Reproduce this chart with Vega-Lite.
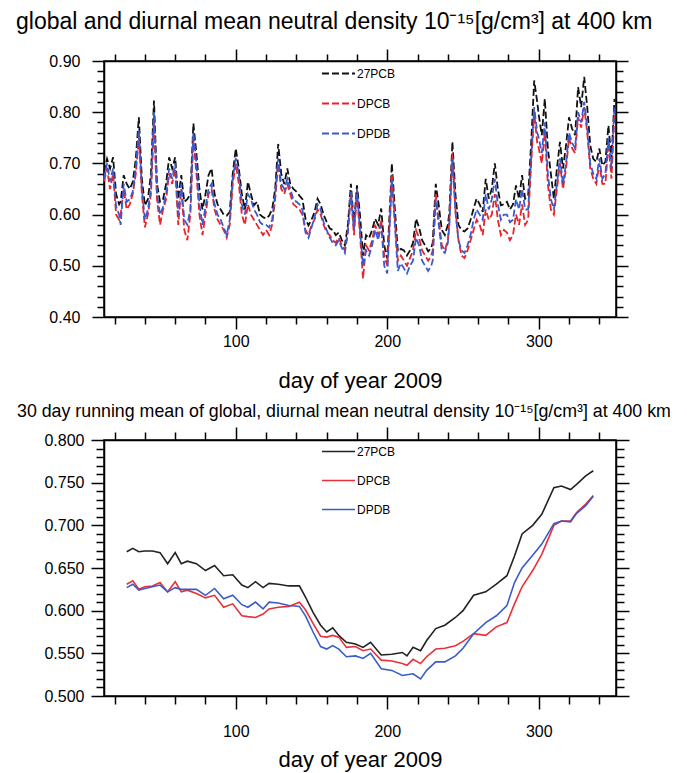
{
  "$schema": "https://vega.github.io/schema/vega-lite/v6.json",
  "padding": {"left": 15, "top": 10, "right": 5, "bottom": 5},
  "background": "white",
  "config": {
    "font": "Liberation Sans",
    "view": {"stroke": "black", "strokeWidth": 1.5},
    "axis": {"grid": false, "domainColor": "black", "domainWidth": 1.5, "tickColor": "black", "tickWidth": 1.5, "labelColor": "black", "titleColor": "black", "titleFontWeight": "normal", "labelOverlap": false, "labelFlush": false},
    "title": {"color": "black", "fontWeight": "normal", "anchor": "start", "frame": "group"}
  },
  "spacing": 10,
  "resolve": {"scale": {"color": "independent"}, "legend": {"color": "independent"}},
  "datasets": {
    "daily": [
      {"day": 13, "27PCB": 0.683, "DPCB": 0.665, "DPDB": 0.670},
      {"day": 15, "27PCB": 0.709, "DPCB": 0.690, "DPDB": 0.700},
      {"day": 17, "27PCB": 0.690, "DPCB": 0.650, "DPDB": 0.665},
      {"day": 19, "27PCB": 0.712, "DPCB": 0.680, "DPDB": 0.690},
      {"day": 21, "27PCB": 0.640, "DPCB": 0.600, "DPDB": 0.615},
      {"day": 23, "27PCB": 0.620, "DPCB": 0.590, "DPDB": 0.600},
      {"day": 24, "27PCB": 0.625, "DPCB": 0.600, "DPDB": 0.580},
      {"day": 26, "27PCB": 0.677, "DPCB": 0.650, "DPDB": 0.660},
      {"day": 28, "27PCB": 0.660, "DPCB": 0.610, "DPDB": 0.625},
      {"day": 30, "27PCB": 0.650, "DPCB": 0.620, "DPDB": 0.630},
      {"day": 32, "27PCB": 0.664, "DPCB": 0.640, "DPDB": 0.645},
      {"day": 34, "27PCB": 0.709, "DPCB": 0.680, "DPDB": 0.690},
      {"day": 36, "27PCB": 0.790, "DPCB": 0.750, "DPDB": 0.765},
      {"day": 38, "27PCB": 0.670, "DPCB": 0.640, "DPDB": 0.650},
      {"day": 40, "27PCB": 0.618, "DPCB": 0.575, "DPDB": 0.590},
      {"day": 42, "27PCB": 0.630, "DPCB": 0.600, "DPDB": 0.610},
      {"day": 44, "27PCB": 0.680, "DPCB": 0.640, "DPDB": 0.650},
      {"day": 46, "27PCB": 0.823, "DPCB": 0.780, "DPDB": 0.800},
      {"day": 48, "27PCB": 0.660, "DPCB": 0.630, "DPDB": 0.640},
      {"day": 50, "27PCB": 0.625, "DPCB": 0.580, "DPDB": 0.600},
      {"day": 52, "27PCB": 0.630, "DPCB": 0.610, "DPDB": 0.615},
      {"day": 54, "27PCB": 0.660, "DPCB": 0.630, "DPDB": 0.640},
      {"day": 56, "27PCB": 0.712, "DPCB": 0.680, "DPDB": 0.690},
      {"day": 58, "27PCB": 0.690, "DPCB": 0.660, "DPDB": 0.670},
      {"day": 60, "27PCB": 0.712, "DPCB": 0.690, "DPDB": 0.700},
      {"day": 62, "27PCB": 0.630, "DPCB": 0.580, "DPDB": 0.600},
      {"day": 64, "27PCB": 0.677, "DPCB": 0.650, "DPDB": 0.660},
      {"day": 66, "27PCB": 0.625, "DPCB": 0.570, "DPDB": 0.590},
      {"day": 68, "27PCB": 0.630, "DPCB": 0.550, "DPDB": 0.580},
      {"day": 70, "27PCB": 0.640, "DPCB": 0.600, "DPDB": 0.610},
      {"day": 72, "27PCB": 0.778, "DPCB": 0.750, "DPDB": 0.760},
      {"day": 74, "27PCB": 0.720, "DPCB": 0.680, "DPDB": 0.700},
      {"day": 76, "27PCB": 0.650, "DPCB": 0.600, "DPDB": 0.620},
      {"day": 78, "27PCB": 0.610, "DPCB": 0.560, "DPDB": 0.580},
      {"day": 80, "27PCB": 0.640, "DPCB": 0.600, "DPDB": 0.615},
      {"day": 82, "27PCB": 0.677, "DPCB": 0.640, "DPDB": 0.650},
      {"day": 84, "27PCB": 0.690, "DPCB": 0.650, "DPDB": 0.660},
      {"day": 86, "27PCB": 0.640, "DPCB": 0.610, "DPDB": 0.620},
      {"day": 88, "27PCB": 0.620, "DPCB": 0.590, "DPDB": 0.600},
      {"day": 90, "27PCB": 0.610, "DPCB": 0.580, "DPDB": 0.590},
      {"day": 92, "27PCB": 0.600, "DPCB": 0.570, "DPDB": 0.575},
      {"day": 94, "27PCB": 0.598, "DPCB": 0.555, "DPDB": 0.560},
      {"day": 96, "27PCB": 0.605, "DPCB": 0.580, "DPDB": 0.590},
      {"day": 98, "27PCB": 0.680, "DPCB": 0.660, "DPDB": 0.670},
      {"day": 100, "27PCB": 0.729, "DPCB": 0.700, "DPDB": 0.710},
      {"day": 102, "27PCB": 0.690, "DPCB": 0.660, "DPDB": 0.680},
      {"day": 104, "27PCB": 0.640, "DPCB": 0.600, "DPDB": 0.620},
      {"day": 106, "27PCB": 0.610, "DPCB": 0.580, "DPDB": 0.600},
      {"day": 108, "27PCB": 0.664, "DPCB": 0.620, "DPDB": 0.640},
      {"day": 110, "27PCB": 0.640, "DPCB": 0.600, "DPDB": 0.630},
      {"day": 112, "27PCB": 0.618, "DPCB": 0.590, "DPDB": 0.610},
      {"day": 114, "27PCB": 0.625, "DPCB": 0.580, "DPDB": 0.600},
      {"day": 116, "27PCB": 0.600, "DPCB": 0.570, "DPDB": 0.585},
      {"day": 118, "27PCB": 0.595, "DPCB": 0.560, "DPDB": 0.580},
      {"day": 120, "27PCB": 0.592, "DPCB": 0.570, "DPDB": 0.580},
      {"day": 122, "27PCB": 0.598, "DPCB": 0.560, "DPDB": 0.575},
      {"day": 124, "27PCB": 0.610, "DPCB": 0.580, "DPDB": 0.590},
      {"day": 126, "27PCB": 0.650, "DPCB": 0.630, "DPDB": 0.640},
      {"day": 128, "27PCB": 0.738, "DPCB": 0.700, "DPDB": 0.710},
      {"day": 130, "27PCB": 0.680, "DPCB": 0.650, "DPDB": 0.660},
      {"day": 132, "27PCB": 0.660, "DPCB": 0.640, "DPDB": 0.650},
      {"day": 134, "27PCB": 0.690, "DPCB": 0.660, "DPDB": 0.670},
      {"day": 136, "27PCB": 0.660, "DPCB": 0.640, "DPDB": 0.650},
      {"day": 138, "27PCB": 0.650, "DPCB": 0.620, "DPDB": 0.630},
      {"day": 140, "27PCB": 0.645, "DPCB": 0.615, "DPDB": 0.625},
      {"day": 142, "27PCB": 0.637, "DPCB": 0.610, "DPDB": 0.620},
      {"day": 144, "27PCB": 0.630, "DPCB": 0.600, "DPDB": 0.610},
      {"day": 146, "27PCB": 0.592, "DPCB": 0.570, "DPDB": 0.565},
      {"day": 148, "27PCB": 0.579, "DPCB": 0.560, "DPDB": 0.555},
      {"day": 150, "27PCB": 0.590, "DPCB": 0.580, "DPDB": 0.575},
      {"day": 152, "27PCB": 0.605, "DPCB": 0.590, "DPDB": 0.595},
      {"day": 154, "27PCB": 0.631, "DPCB": 0.610, "DPDB": 0.620},
      {"day": 156, "27PCB": 0.620, "DPCB": 0.600, "DPDB": 0.610},
      {"day": 158, "27PCB": 0.600, "DPCB": 0.580, "DPDB": 0.585},
      {"day": 160, "27PCB": 0.586, "DPCB": 0.565, "DPDB": 0.570},
      {"day": 162, "27PCB": 0.573, "DPCB": 0.560, "DPDB": 0.555},
      {"day": 164, "27PCB": 0.570, "DPCB": 0.550, "DPDB": 0.545},
      {"day": 166, "27PCB": 0.560, "DPCB": 0.545, "DPDB": 0.540},
      {"day": 168, "27PCB": 0.565, "DPCB": 0.555, "DPDB": 0.550},
      {"day": 170, "27PCB": 0.550, "DPCB": 0.540, "DPDB": 0.535},
      {"day": 172, "27PCB": 0.540, "DPCB": 0.530, "DPDB": 0.525},
      {"day": 174, "27PCB": 0.580, "DPCB": 0.570, "DPDB": 0.565},
      {"day": 176, "27PCB": 0.660, "DPCB": 0.640, "DPDB": 0.645},
      {"day": 178, "27PCB": 0.580, "DPCB": 0.560, "DPDB": 0.570},
      {"day": 180, "27PCB": 0.657, "DPCB": 0.640, "DPDB": 0.650},
      {"day": 182, "27PCB": 0.600, "DPCB": 0.560, "DPDB": 0.570},
      {"day": 184, "27PCB": 0.520, "DPCB": 0.475, "DPDB": 0.500},
      {"day": 186, "27PCB": 0.560, "DPCB": 0.540, "DPDB": 0.530},
      {"day": 188, "27PCB": 0.554, "DPCB": 0.530, "DPDB": 0.520},
      {"day": 190, "27PCB": 0.570, "DPCB": 0.550, "DPDB": 0.540},
      {"day": 192, "27PCB": 0.592, "DPCB": 0.580, "DPDB": 0.570},
      {"day": 194, "27PCB": 0.580, "DPCB": 0.560, "DPDB": 0.550},
      {"day": 196, "27PCB": 0.612, "DPCB": 0.590, "DPDB": 0.580},
      {"day": 198, "27PCB": 0.540, "DPCB": 0.520, "DPDB": 0.500},
      {"day": 200, "27PCB": 0.514, "DPCB": 0.500, "DPDB": 0.485},
      {"day": 202, "27PCB": 0.630, "DPCB": 0.610, "DPDB": 0.600},
      {"day": 203, "27PCB": 0.700, "DPCB": 0.680, "DPDB": 0.670},
      {"day": 205, "27PCB": 0.612, "DPCB": 0.590, "DPDB": 0.580},
      {"day": 207, "27PCB": 0.528, "DPCB": 0.510, "DPDB": 0.490},
      {"day": 209, "27PCB": 0.533, "DPCB": 0.520, "DPDB": 0.505},
      {"day": 211, "27PCB": 0.530, "DPCB": 0.510, "DPDB": 0.495},
      {"day": 213, "27PCB": 0.520, "DPCB": 0.500, "DPDB": 0.485},
      {"day": 215, "27PCB": 0.530, "DPCB": 0.515, "DPDB": 0.500},
      {"day": 217, "27PCB": 0.545, "DPCB": 0.530, "DPDB": 0.510},
      {"day": 219, "27PCB": 0.592, "DPCB": 0.570, "DPDB": 0.555},
      {"day": 221, "27PCB": 0.575, "DPCB": 0.555, "DPDB": 0.540},
      {"day": 223, "27PCB": 0.550, "DPCB": 0.530, "DPDB": 0.510},
      {"day": 225, "27PCB": 0.540, "DPCB": 0.520, "DPDB": 0.500},
      {"day": 227, "27PCB": 0.528, "DPCB": 0.510, "DPDB": 0.490},
      {"day": 229, "27PCB": 0.535, "DPCB": 0.520, "DPDB": 0.500},
      {"day": 230, "27PCB": 0.545, "DPCB": 0.530, "DPDB": 0.510},
      {"day": 232, "27PCB": 0.660, "DPCB": 0.640, "DPDB": 0.630},
      {"day": 234, "27PCB": 0.618, "DPCB": 0.590, "DPDB": 0.580},
      {"day": 236, "27PCB": 0.570, "DPCB": 0.540, "DPDB": 0.530},
      {"day": 238, "27PCB": 0.560, "DPCB": 0.530, "DPDB": 0.525},
      {"day": 240, "27PCB": 0.580, "DPCB": 0.550, "DPDB": 0.545},
      {"day": 241, "27PCB": 0.605, "DPCB": 0.590, "DPDB": 0.580},
      {"day": 243, "27PCB": 0.742, "DPCB": 0.720, "DPDB": 0.710},
      {"day": 245, "27PCB": 0.640, "DPCB": 0.610, "DPDB": 0.605},
      {"day": 247, "27PCB": 0.580, "DPCB": 0.550, "DPDB": 0.550},
      {"day": 249, "27PCB": 0.570, "DPCB": 0.520, "DPDB": 0.530},
      {"day": 251, "27PCB": 0.567, "DPCB": 0.515, "DPDB": 0.525},
      {"day": 253, "27PCB": 0.573, "DPCB": 0.530, "DPDB": 0.540},
      {"day": 255, "27PCB": 0.590, "DPCB": 0.550, "DPDB": 0.560},
      {"day": 257, "27PCB": 0.612, "DPCB": 0.570, "DPDB": 0.590},
      {"day": 259, "27PCB": 0.631, "DPCB": 0.590, "DPDB": 0.610},
      {"day": 261, "27PCB": 0.620, "DPCB": 0.580, "DPDB": 0.600},
      {"day": 263, "27PCB": 0.605, "DPCB": 0.560, "DPDB": 0.590},
      {"day": 265, "27PCB": 0.670, "DPCB": 0.610, "DPDB": 0.640},
      {"day": 267, "27PCB": 0.631, "DPCB": 0.590, "DPDB": 0.610},
      {"day": 269, "27PCB": 0.650, "DPCB": 0.600, "DPDB": 0.630},
      {"day": 271, "27PCB": 0.700, "DPCB": 0.640, "DPDB": 0.670},
      {"day": 273, "27PCB": 0.650, "DPCB": 0.590, "DPDB": 0.620},
      {"day": 275, "27PCB": 0.618, "DPCB": 0.560, "DPDB": 0.590},
      {"day": 277, "27PCB": 0.620, "DPCB": 0.570, "DPDB": 0.600},
      {"day": 279, "27PCB": 0.625, "DPCB": 0.565, "DPDB": 0.600},
      {"day": 281, "27PCB": 0.610, "DPCB": 0.550, "DPDB": 0.585},
      {"day": 283, "27PCB": 0.620, "DPCB": 0.560, "DPDB": 0.590},
      {"day": 285, "27PCB": 0.657, "DPCB": 0.600, "DPDB": 0.630},
      {"day": 287, "27PCB": 0.631, "DPCB": 0.580, "DPDB": 0.610},
      {"day": 289, "27PCB": 0.677, "DPCB": 0.620, "DPDB": 0.650},
      {"day": 291, "27PCB": 0.631, "DPCB": 0.580, "DPDB": 0.610},
      {"day": 293, "27PCB": 0.637, "DPCB": 0.590, "DPDB": 0.610},
      {"day": 295, "27PCB": 0.740, "DPCB": 0.700, "DPDB": 0.710},
      {"day": 297, "27PCB": 0.862, "DPCB": 0.800, "DPDB": 0.810},
      {"day": 299, "27PCB": 0.820, "DPCB": 0.740, "DPDB": 0.760},
      {"day": 300, "27PCB": 0.795, "DPCB": 0.730, "DPDB": 0.750},
      {"day": 302, "27PCB": 0.755, "DPCB": 0.700, "DPDB": 0.720},
      {"day": 304, "27PCB": 0.826, "DPCB": 0.760, "DPDB": 0.780},
      {"day": 306, "27PCB": 0.730, "DPCB": 0.660, "DPDB": 0.680},
      {"day": 308, "27PCB": 0.680, "DPCB": 0.610, "DPDB": 0.630},
      {"day": 310, "27PCB": 0.631, "DPCB": 0.600, "DPDB": 0.610},
      {"day": 312, "27PCB": 0.690, "DPCB": 0.650, "DPDB": 0.660},
      {"day": 314, "27PCB": 0.742, "DPCB": 0.700, "DPDB": 0.710},
      {"day": 316, "27PCB": 0.690, "DPCB": 0.650, "DPDB": 0.660},
      {"day": 318, "27PCB": 0.735, "DPCB": 0.690, "DPDB": 0.700},
      {"day": 320, "27PCB": 0.790, "DPCB": 0.750, "DPDB": 0.760},
      {"day": 322, "27PCB": 0.768, "DPCB": 0.730, "DPDB": 0.740},
      {"day": 324, "27PCB": 0.755, "DPCB": 0.720, "DPDB": 0.730},
      {"day": 326, "27PCB": 0.849, "DPCB": 0.790, "DPDB": 0.800},
      {"day": 328, "27PCB": 0.810, "DPCB": 0.770, "DPDB": 0.780},
      {"day": 330, "27PCB": 0.869, "DPCB": 0.810, "DPDB": 0.820},
      {"day": 332, "27PCB": 0.810, "DPCB": 0.760, "DPDB": 0.770},
      {"day": 334, "27PCB": 0.735, "DPCB": 0.690, "DPDB": 0.700},
      {"day": 336, "27PCB": 0.709, "DPCB": 0.670, "DPDB": 0.680},
      {"day": 338, "27PCB": 0.703, "DPCB": 0.660, "DPDB": 0.670},
      {"day": 340, "27PCB": 0.729, "DPCB": 0.700, "DPDB": 0.710},
      {"day": 342, "27PCB": 0.696, "DPCB": 0.660, "DPDB": 0.670},
      {"day": 344, "27PCB": 0.703, "DPCB": 0.660, "DPDB": 0.680},
      {"day": 346, "27PCB": 0.774, "DPCB": 0.740, "DPDB": 0.750},
      {"day": 348, "27PCB": 0.709, "DPCB": 0.670, "DPDB": 0.690},
      {"day": 350, "27PCB": 0.826, "DPCB": 0.800, "DPDB": 0.810}
    ],
    "running": [
      {"day": 28, "27PCB": 0.669, "DPCB": 0.631, "DPDB": 0.627},
      {"day": 32, "27PCB": 0.673, "DPCB": 0.635, "DPDB": 0.631},
      {"day": 36, "27PCB": 0.669, "DPCB": 0.625, "DPDB": 0.624},
      {"day": 40, "27PCB": 0.670, "DPCB": 0.628, "DPDB": 0.626},
      {"day": 45, "27PCB": 0.670, "DPCB": 0.629, "DPDB": 0.628},
      {"day": 50, "27PCB": 0.668, "DPCB": 0.633, "DPDB": 0.630},
      {"day": 55, "27PCB": 0.655, "DPCB": 0.622, "DPDB": 0.622},
      {"day": 60, "27PCB": 0.668, "DPCB": 0.634, "DPDB": 0.627},
      {"day": 64, "27PCB": 0.655, "DPCB": 0.622, "DPDB": 0.625},
      {"day": 68, "27PCB": 0.658, "DPCB": 0.624, "DPDB": 0.625},
      {"day": 74, "27PCB": 0.655, "DPCB": 0.620, "DPDB": 0.625},
      {"day": 80, "27PCB": 0.647, "DPCB": 0.615, "DPDB": 0.618},
      {"day": 86, "27PCB": 0.653, "DPCB": 0.618, "DPDB": 0.626},
      {"day": 92, "27PCB": 0.641, "DPCB": 0.604, "DPDB": 0.614},
      {"day": 98, "27PCB": 0.642, "DPCB": 0.608, "DPDB": 0.618},
      {"day": 104, "27PCB": 0.630, "DPCB": 0.594, "DPDB": 0.607},
      {"day": 108, "27PCB": 0.627, "DPCB": 0.593, "DPDB": 0.604},
      {"day": 113, "27PCB": 0.634, "DPCB": 0.592, "DPDB": 0.610},
      {"day": 118, "27PCB": 0.627, "DPCB": 0.596, "DPDB": 0.602},
      {"day": 122, "27PCB": 0.632, "DPCB": 0.602, "DPDB": 0.610},
      {"day": 128, "27PCB": 0.631, "DPCB": 0.604, "DPDB": 0.609},
      {"day": 135, "27PCB": 0.629, "DPCB": 0.605, "DPDB": 0.606},
      {"day": 142, "27PCB": 0.629, "DPCB": 0.610, "DPDB": 0.605},
      {"day": 146, "27PCB": 0.616, "DPCB": 0.601, "DPDB": 0.594},
      {"day": 151, "27PCB": 0.598, "DPCB": 0.585, "DPDB": 0.575},
      {"day": 156, "27PCB": 0.583, "DPCB": 0.570, "DPDB": 0.558},
      {"day": 160, "27PCB": 0.575, "DPCB": 0.569, "DPDB": 0.555},
      {"day": 164, "27PCB": 0.580, "DPCB": 0.571, "DPDB": 0.559},
      {"day": 168, "27PCB": 0.571, "DPCB": 0.569, "DPDB": 0.555},
      {"day": 173, "27PCB": 0.563, "DPCB": 0.557, "DPDB": 0.546},
      {"day": 179, "27PCB": 0.561, "DPCB": 0.558, "DPDB": 0.547},
      {"day": 184, "27PCB": 0.557, "DPCB": 0.553, "DPDB": 0.544},
      {"day": 189, "27PCB": 0.563, "DPCB": 0.555, "DPDB": 0.550},
      {"day": 196, "27PCB": 0.548, "DPCB": 0.542, "DPDB": 0.532},
      {"day": 203, "27PCB": 0.549, "DPCB": 0.541, "DPDB": 0.530},
      {"day": 210, "27PCB": 0.551, "DPCB": 0.538, "DPDB": 0.524},
      {"day": 213, "27PCB": 0.547, "DPCB": 0.536, "DPDB": 0.525},
      {"day": 217, "27PCB": 0.557, "DPCB": 0.543, "DPDB": 0.526},
      {"day": 222, "27PCB": 0.553, "DPCB": 0.538, "DPDB": 0.520},
      {"day": 226, "27PCB": 0.565, "DPCB": 0.546, "DPDB": 0.530},
      {"day": 232, "27PCB": 0.579, "DPCB": 0.555, "DPDB": 0.540},
      {"day": 238, "27PCB": 0.583, "DPCB": 0.556, "DPDB": 0.540},
      {"day": 245, "27PCB": 0.592, "DPCB": 0.559, "DPDB": 0.547},
      {"day": 250, "27PCB": 0.600, "DPCB": 0.564, "DPDB": 0.556},
      {"day": 257, "27PCB": 0.618, "DPCB": 0.573, "DPDB": 0.573},
      {"day": 265, "27PCB": 0.622, "DPCB": 0.571, "DPDB": 0.586},
      {"day": 272, "27PCB": 0.631, "DPCB": 0.581, "DPDB": 0.594},
      {"day": 279, "27PCB": 0.641, "DPCB": 0.586, "DPDB": 0.606},
      {"day": 284, "27PCB": 0.664, "DPCB": 0.608, "DPDB": 0.633},
      {"day": 289, "27PCB": 0.690, "DPCB": 0.628, "DPDB": 0.650},
      {"day": 296, "27PCB": 0.700, "DPCB": 0.647, "DPDB": 0.665},
      {"day": 302, "27PCB": 0.713, "DPCB": 0.666, "DPDB": 0.678},
      {"day": 310, "27PCB": 0.744, "DPCB": 0.700, "DPDB": 0.702},
      {"day": 315, "27PCB": 0.746, "DPCB": 0.705, "DPDB": 0.705},
      {"day": 321, "27PCB": 0.742, "DPCB": 0.705, "DPDB": 0.704},
      {"day": 325, "27PCB": 0.748, "DPCB": 0.715, "DPDB": 0.714},
      {"day": 331, "27PCB": 0.758, "DPCB": 0.725, "DPDB": 0.723},
      {"day": 336, "27PCB": 0.764, "DPCB": 0.735, "DPDB": 0.734}
    ]
  },
  "vconcat": [
    {
      "width": 512,
      "height": 256,
      "title": {"text": "global and diurnal mean neutral density 10⁻¹⁵[g/cm³] at 400 km", "fontSize": 23, "dx": -88, "offset": 14},
      "data": {"name": "daily"},
      "transform": [{"fold": ["27PCB", "DPCB", "DPDB"], "as": ["series", "v"]}],
      "layer": [
        {
          "mark": {"type": "line", "strokeWidth": 1.8, "strokeDash": [7, 3]},
          "encoding": {
            "x": {"field": "day", "type": "quantitative", "scale": {"domain": [13, 351], "nice": false, "zero": false},
              "axis": {"values": [20, 40, 60, 80, 100, 120, 140, 160, 180, 200, 220, 240, 260, 280, 300, 320, 340],
                "labelExpr": "datum.value % 100 === 0 ? datum.label : ''",
                "tickSize": {"condition": {"test": "datum.value % 100 === 0", "value": 12}, "value": 7},
                "title": "day of year 2009", "titleFontSize": 22, "labelFontSize": 16, "labelPadding": 4, "titlePadding": 21}},
            "y": {"field": "v", "type": "quantitative", "scale": {"domain": [0.4, 0.9], "nice": false, "zero": false},
              "axis": {"values": [0.40, 0.42, 0.44, 0.46, 0.48, 0.50, 0.52, 0.54, 0.56, 0.58, 0.60, 0.62, 0.64, 0.66, 0.68, 0.70, 0.72, 0.74, 0.76, 0.78, 0.80, 0.82, 0.84, 0.86, 0.88, 0.90],
                "format": ".2f",
                "labelExpr": "abs(datum.value * 10 - round(datum.value * 10)) < 1e-6 ? datum.label : ''",
                "tickSize": {"condition": {"test": "abs(datum.value * 10 - round(datum.value * 10)) < 1e-6", "value": 12}, "value": 7},
                "title": null, "labelFontSize": 16, "labelPadding": 12}},
            "color": {"field": "series", "type": "nominal",
              "scale": {"domain": ["27PCB", "DPCB", "DPDB"], "range": ["#111111", "#e8232b", "#3a5bd0"]},
              "legend": {"orient": "none", "legendX": 217, "legendY": -5, "title": null, "symbolType": "stroke", "symbolSize": 1089, "symbolStrokeWidth": 1.8, "symbolDash": [7, 3], "labelFontSize": 12, "labelOffset": 1, "rowPadding": 6, "labelColor": "black"}}
          }
        },
        {
          "mark": {"type": "line", "strokeOpacity": 0},
          "encoding": {
            "x": {"field": "day", "type": "quantitative", "scale": {"domain": [13, 351], "nice": false, "zero": false},
              "axis": {"orient": "top", "values": [20, 40, 60, 80, 100, 120, 140, 160, 180, 200, 220, 240, 260, 280, 300, 320, 340], "labels": false, "title": null,
                "tickSize": {"condition": {"test": "datum.value % 100 === 0", "value": 12}, "value": 7}}},
            "y": {"field": "v", "type": "quantitative", "scale": {"domain": [0.4, 0.9], "nice": false, "zero": false},
              "axis": {"orient": "right", "values": [0.40, 0.42, 0.44, 0.46, 0.48, 0.50, 0.52, 0.54, 0.56, 0.58, 0.60, 0.62, 0.64, 0.66, 0.68, 0.70, 0.72, 0.74, 0.76, 0.78, 0.80, 0.82, 0.84, 0.86, 0.88, 0.90], "labels": false, "title": null,
                "tickSize": {"condition": {"test": "abs(datum.value * 10 - round(datum.value * 10)) < 1e-6", "value": 12}, "value": 7}}},
            "detail": {"field": "series", "type": "nominal"}
          }
        }
      ],
      "resolve": {"axis": {"x": "independent", "y": "independent"}}
    },
    {
      "width": 512,
      "height": 256,
      "title": {"text": "30 day running mean of global, diurnal mean neutral density  10⁻¹⁵[g/cm³] at 400 km", "fontSize": 17.8, "dx": -87, "offset": 5},
      "data": {"name": "running"},
      "transform": [{"fold": ["27PCB", "DPCB", "DPDB"], "as": ["series", "v"]}],
      "layer": [
        {
          "mark": {"type": "line", "strokeWidth": 1.6},
          "encoding": {
            "x": {"field": "day", "type": "quantitative", "scale": {"domain": [13, 351], "nice": false, "zero": false},
              "axis": {"values": [20, 40, 60, 80, 100, 120, 140, 160, 180, 200, 220, 240, 260, 280, 300, 320, 340],
                "labelExpr": "datum.value % 100 === 0 ? datum.label : ''",
                "tickSize": {"condition": {"test": "datum.value % 100 === 0", "value": 13}, "value": 8},
                "title": "day of year 2009", "titleFontSize": 22, "labelFontSize": 16, "labelPadding": 14, "titlePadding": 10}},
            "y": {"field": "v", "type": "quantitative", "scale": {"domain": [0.5, 0.8], "nice": false, "zero": false},
              "axis": {"values": [0.50, 0.51, 0.52, 0.53, 0.54, 0.55, 0.56, 0.57, 0.58, 0.59, 0.60, 0.61, 0.62, 0.63, 0.64, 0.65, 0.66, 0.67, 0.68, 0.69, 0.70, 0.71, 0.72, 0.73, 0.74, 0.75, 0.76, 0.77, 0.78, 0.79, 0.80],
                "format": ".3f",
                "labelExpr": "abs(datum.value * 20 - round(datum.value * 20)) < 1e-6 ? datum.label : ''",
                "tickSize": {"condition": {"test": "abs(datum.value * 20 - round(datum.value * 20)) < 1e-6", "value": 13}, "value": 8},
                "title": null, "labelFontSize": 16, "labelPadding": 7}},
            "color": {"field": "series", "type": "nominal",
              "scale": {"domain": ["27PCB", "DPCB", "DPDB"], "range": ["#222222", "#e8303a", "#3a5cc8"]},
              "legend": {"orient": "none", "legendX": 217, "legendY": -6, "title": null, "symbolType": "stroke", "symbolSize": 1089, "symbolStrokeWidth": 1.6, "labelFontSize": 12, "labelOffset": 1, "rowPadding": 5, "labelColor": "black"}}
          }
        },
        {
          "mark": {"type": "line", "strokeOpacity": 0},
          "encoding": {
            "x": {"field": "day", "type": "quantitative", "scale": {"domain": [13, 351], "nice": false, "zero": false},
              "axis": {"orient": "top", "values": [20, 40, 60, 80, 100, 120, 140, 160, 180, 200, 220, 240, 260, 280, 300, 320, 340], "labels": false, "title": null,
                "tickSize": {"condition": {"test": "datum.value % 100 === 0", "value": 13}, "value": 8}}},
            "y": {"field": "v", "type": "quantitative", "scale": {"domain": [0.5, 0.8], "nice": false, "zero": false},
              "axis": {"orient": "right", "values": [0.50, 0.51, 0.52, 0.53, 0.54, 0.55, 0.56, 0.57, 0.58, 0.59, 0.60, 0.61, 0.62, 0.63, 0.64, 0.65, 0.66, 0.67, 0.68, 0.69, 0.70, 0.71, 0.72, 0.73, 0.74, 0.75, 0.76, 0.77, 0.78, 0.79, 0.80], "labels": false, "title": null,
                "tickSize": {"condition": {"test": "abs(datum.value * 20 - round(datum.value * 20)) < 1e-6", "value": 13}, "value": 8}}},
            "detail": {"field": "series", "type": "nominal"}
          }
        }
      ],
      "resolve": {"axis": {"x": "independent", "y": "independent"}}
    }
  ]
}
